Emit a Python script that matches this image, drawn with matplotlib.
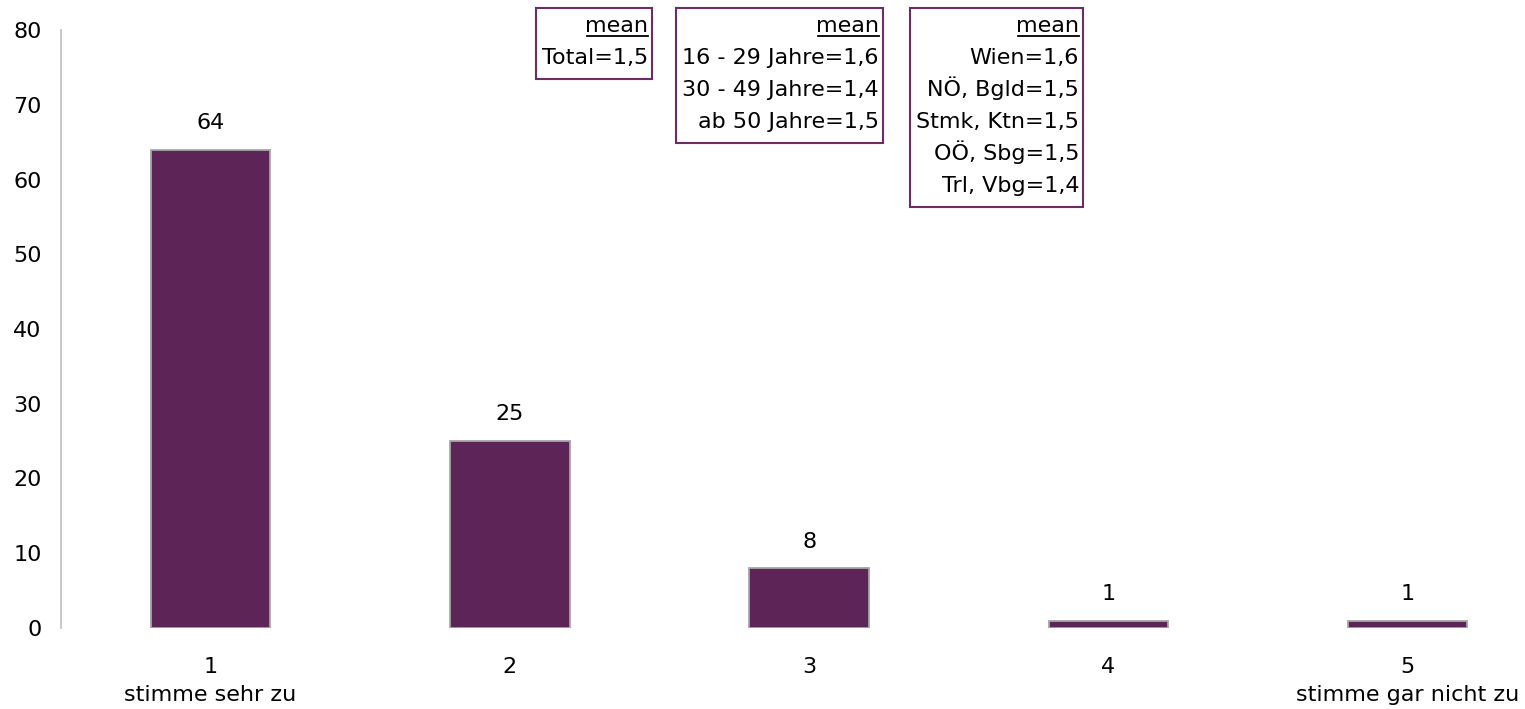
import matplotlib.pyplot as plt
from matplotlib.patches import Rectangle
from matplotlib.lines import Line2D

categories = ['1\nstimme sehr zu', '2', '3', '4', '5\nstimme gar nicht zu']
values = [64, 25, 8, 1, 1]

mean_total = ['Total=1,5']
mean_age = ['16 - 29 Jahre=1,6', '30 - 49 Jahre=1,4', 'ab 50 Jahre=1,5']
mean_region = ['Wien=1,6', 'NÖ, Bgld=1,5', 'Stmk, Ktn=1,5', 'OÖ, Sbg=1,5', 'Trl, Vbg=1,4']

plt.rcParams['font.family'] = ['DejaVu Sans']
plt.rcParams['font.size'] = 16

W, H = 1525, 709
BAR_COLOR = '#5C2457'
BOX_COLOR = '#6B2D64'

fig = plt.figure(figsize=(W / 100, H / 100), dpi=100)
ax = fig.add_axes([61 / W, 81 / H, (W - 61) / W, 598 / H])

x = list(range(1, len(values) + 1))
bars = ax.bar(x, values, width=0.4, color=BAR_COLOR, edgecolor='#A6A6A6', linewidth=1.3)
ax.bar_label(bars, padding=12)

ax.set_ylim(0, 80)
ax.set_xlim(0.5, 0.5 + (W - 61) / 299.25)
ax.set_yticks(range(0, 81, 10))
ax.set_xticks(x)
ax.set_xticklabels(categories)
for lbl in ax.get_xticklabels():
    lbl.set_linespacing(1.5)
ax.tick_params(axis='x', length=0, pad=21)
ax.tick_params(axis='y', length=0, pad=14)

for side in ['top', 'right', 'bottom']:
    ax.spines[side].set_visible(False)
ax.spines['left'].set_color('#BFBFBF')
ax.spines['left'].set_linewidth(1.2)


def px(xp, yp):
    # pixel coords (origin top-left) -> figure fraction
    return xp / W, 1 - yp / H


def mean_box(right, lines, top=8, first_base=32, pitch=32):
    texts = []
    head = fig.text(*px(right - 4, first_base), 'mean', ha='right', va='baseline')
    texts.append(head)
    for i, line in enumerate(lines, start=1):
        texts.append(fig.text(*px(right - 4, first_base + pitch * i), line,
                              ha='right', va='baseline'))
    fig.canvas.draw()
    r = fig.canvas.get_renderer()
    ext = [t.get_window_extent(r) for t in texts]
    left = min(e.x0 for e in ext) - 6
    bottom = first_base + pitch * len(lines) + 15
    # underline of the header
    hb = ext[0]
    uy = H - (first_base + 3.5)
    fig.add_artist(Line2D([(hb.x0 + 2) / W, hb.x1 / W], [uy / H, uy / H],
                          color='black', linewidth=1.3, transform=fig.transFigure))
    fig.add_artist(Rectangle((left / W, 1 - bottom / H), (right - left) / W,
                             (bottom - top) / H, transform=fig.transFigure,
                             fill=False, edgecolor=BOX_COLOR, linewidth=1.5))


mean_box(652, mean_total)
mean_box(883, mean_age)
mean_box(1083, mean_region)

fig.savefig('out.png', dpi=100)
